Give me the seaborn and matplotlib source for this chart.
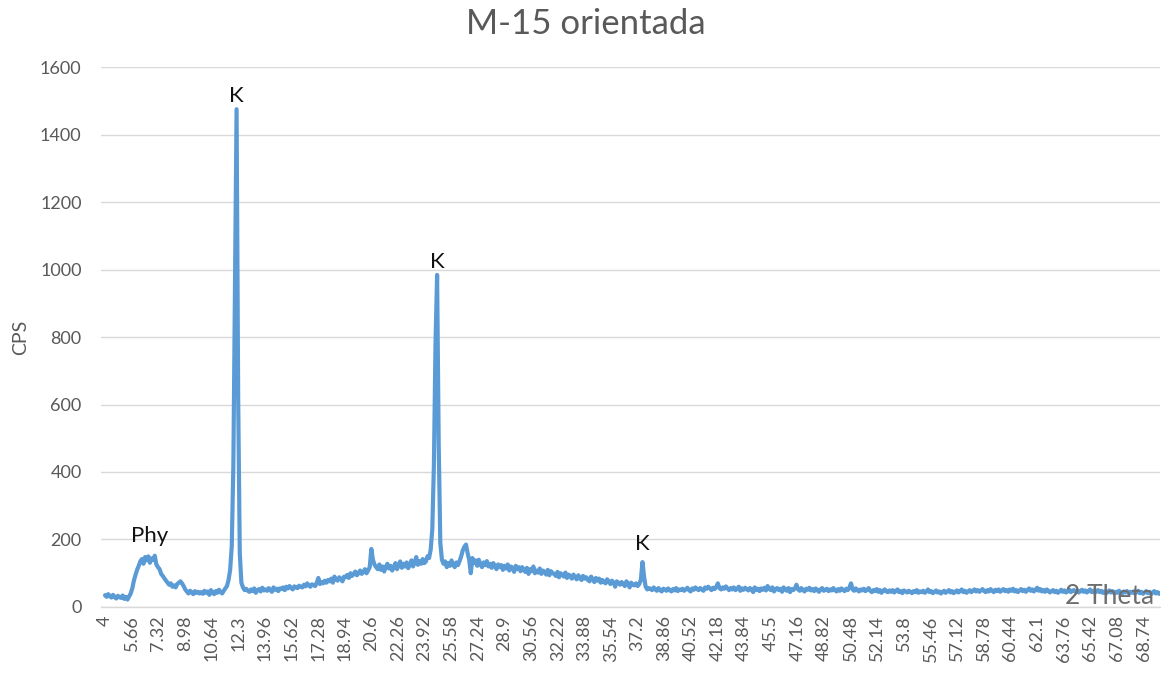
import numpy as np
import pandas as pd
import matplotlib
matplotlib.use("Agg")
import matplotlib.pyplot as plt
import seaborn as sns

# Diffractogram sampled every 0.1 degree 2-theta from 4.0 to 70.0
theta_start, theta_step = 4.0, 0.1

cps = [
    35, 30, 38, 32, 28, 36, 30, 25, 33, 29,            # 4.x
    27, 34, 24, 30, 22, 31, 40, 55, 78, 95,            # 5.x
    110, 122, 135, 142, 128, 148, 138, 150, 131, 144,  # 6.x
    140, 152, 126, 118, 112, 98, 92, 85, 78, 72,       # 7.x
    66, 70, 60, 64, 58, 68, 72, 76, 70, 62,            # 8.x
    52, 46, 40, 48, 43, 38, 47, 42, 45, 40,            # 9.x
    44, 39, 48, 42, 46, 36, 50, 43, 38, 47,            # 10.x
    42, 51, 45, 40, 48, 55, 62, 80, 110, 180,          # 11.x
    420, 960, 1475, 620, 160, 72, 58, 50, 54, 48,      # 12.x
    45, 52, 47, 55, 42, 50, 53, 46, 57, 49,            # 13.x
    52, 48, 56, 50, 45, 58, 51, 54, 47, 55,            # 14.x
    53, 58, 50, 60, 55, 62, 57, 52, 61, 58,            # 15.x
    56, 63, 60, 58, 66, 61, 70, 64, 60, 67,            # 16.x
    65, 62, 72, 86, 68, 74, 70, 78, 72, 80,            # 17.x
    76, 84, 72, 90, 82, 78, 88, 84, 76, 90,            # 18.x
    88, 95, 86, 100, 92, 98, 105, 94, 100, 108,        # 19.x
    98, 104, 112, 100, 108, 118, 172, 140, 125, 118,   # 20.x
    112, 126, 110, 120, 105, 118, 128, 114, 122, 108,  # 21.x
    118, 130, 112, 124, 135, 116, 128, 120, 132, 115,  # 22.x
    126, 138, 120, 132, 148, 125, 136, 128, 142, 130,  # 23.x
    135, 150, 145, 170, 230, 420, 780, 984, 480, 190,  # 24.x
    140, 128, 135, 118, 130, 122, 138, 125, 118, 132,  # 25.x
    124, 136, 150, 168, 178, 185, 160, 140, 100, 145,  # 26.x
    130, 138, 122, 140, 126, 118, 132, 124, 136, 120,  # 27.x
    128, 116, 130, 122, 112, 126, 118, 124, 110, 122,  # 28.x
    114, 126, 108, 120, 116, 104, 122, 112, 118, 106,  # 29.x
    118, 110, 104, 116, 98, 112, 106, 120, 100, 108,   # 30.x
    102, 114, 98, 108, 104, 96, 110, 94, 106, 100,     # 31.x
    98, 92, 104, 88, 100, 96, 90, 102, 86, 96,         # 32.x
    92, 84, 96, 88, 82, 94, 86, 80, 92, 84,            # 33.x
    88, 80, 76, 90, 82, 74, 86, 78, 84, 72,            # 34.x
    80, 74, 70, 82, 76, 68, 78, 72, 60, 76,            # 35.x
    72, 66, 74, 68, 62, 76, 70, 58, 72, 66,            # 36.x
    64, 70, 62, 68, 80, 133, 90, 60, 52, 56,           # 37.x
    54, 50, 58, 52, 48, 56, 50, 46, 54, 52,            # 38.x
    48, 55, 50, 46, 53, 49, 56, 47, 52, 50,            # 39.x
    54, 48, 52, 57, 50, 46, 55, 51, 58, 53,            # 40.x
    50, 56, 52, 48, 58, 54, 60, 55, 50, 57,            # 41.x
    53, 60, 70, 56, 52, 58, 54, 61, 55, 50,            # 42.x
    56, 52, 58, 50, 54, 60, 48, 55, 51, 57,            # 43.x
    53, 49, 56, 52, 44, 58, 50, 54, 47, 55,            # 44.x
    51, 57, 49, 62, 55, 50, 58, 46, 53, 56,            # 45.x
    50, 54, 45, 58, 52, 48, 56, 44, 53, 50,            # 46.x
    55, 66, 52, 48, 56, 50, 46, 54, 51, 57,            # 47.x
    49, 53, 47, 55, 50, 45, 52, 56, 48, 51,            # 48.x
    54, 47, 52, 49, 56, 50, 46, 53, 48, 55,            # 49.x
    51, 47, 54, 50, 58, 70, 52, 48, 55, 50,            # 50.x
    46, 52, 49, 54, 47, 51, 56, 48, 44, 50,            # 51.x
    47, 53, 45, 50, 42, 48, 52, 46, 44, 49,            # 52.x
    45, 50, 43, 48, 52, 44, 47, 41, 49, 46,            # 53.x
    43, 48, 45, 41, 47, 44, 50, 42, 46, 44,            # 54.x
    48, 42, 46, 52, 44, 47, 41, 45, 49, 43,            # 55.x
    46, 40, 44, 48, 42, 46, 50, 43, 47, 41,            # 56.x
    45, 49, 43, 47, 52, 44, 48, 42, 46, 50,            # 57.x
    44, 48, 52, 46, 50, 45, 49, 53, 47, 44,            # 58.x
    50, 46, 53, 48, 44, 51, 47, 52, 45, 49,            # 59.x
    53, 47, 50, 45, 52, 48, 54, 46, 50, 44,            # 60.x
    49, 53, 47, 51, 45, 50, 55, 48, 52, 46,            # 61.x
    51, 57, 48, 53, 46, 50, 45, 52, 48, 43,            # 62.x
    47, 50, 44, 48, 42, 46, 51, 45, 49, 43,            # 63.x
    46, 52, 44, 48, 50, 45, 49, 43, 47, 51,            # 64.x
    45, 49, 43, 47, 52, 44, 48, 42, 46, 50,            # 65.x
    44, 48, 42, 46, 40, 45, 49, 43, 47, 41,            # 66.x
    45, 42, 48, 44, 40, 46, 43, 47, 41, 45,            # 67.x
    42, 46, 40, 44, 48, 41, 45, 39, 43, 47,            # 68.x
    41, 45, 38, 43, 47, 40, 44, 39, 42, 46,            # 69.x
    41,                                                # 70.0
]

tick_labels = ["4", "5.66", "7.32", "8.98", "10.64", "12.3", "13.96", "15.62",
               "17.28", "18.94", "20.6", "22.26", "23.92", "25.58", "27.24",
               "28.9", "30.56", "32.22", "33.88", "35.54", "37.2", "38.86",
               "40.52", "42.18", "43.84", "45.5", "47.16", "48.82", "50.48",
               "52.14", "53.8", "55.46", "57.12", "58.78", "60.44", "62.1",
               "63.76", "65.42", "67.08", "68.74"]

# Phase labels: (name, 2-theta, intensity at label anchor)
phase_names = ["K", "K", "K", "Phy"]
phase_theta = [12.2, 24.7, 37.5, 6.8]
phase_cps = [1475, 984, 150, 172]

two_theta = np.round(theta_start + theta_step * np.arange(len(cps)), 1)
df = pd.DataFrame({"2 Theta": two_theta, "CPS": cps})

sns.set_style("white")
plt.rcParams["font.family"] = ["Lato", "DejaVu Sans"]

fig = plt.figure(figsize=(11.61, 6.84), dpi=100)
ax = fig.add_axes([0.087, 0.1126, 0.912, 0.7894])

sns.lineplot(data=df, x="2 Theta", y="CPS", ax=ax, color="#5B9BD5",
             linewidth=3.0, estimator=None)

ax.set_xlim(3.75, 69.75)
ax.set_ylim(0, 1600)
ax.set_yticks(range(0, 1601, 200))
ax.set_xticks([float(t) for t in tick_labels])
ax.set_xticklabels(tick_labels, rotation=90)

ax.grid(axis="y", color="#D9D9D9", linewidth=1)
ax.grid(axis="x", visible=False)
ax.set_axisbelow(True)
for side in ["left", "right", "top"]:
    ax.spines[side].set_visible(False)
ax.spines["bottom"].set_color("#D9D9D9")
ax.spines["bottom"].set_linewidth(1)

ax.tick_params(axis="both", length=0, labelsize=13, labelcolor="#595959")
ax.tick_params(axis="y", pad=14)
ax.tick_params(axis="x", pad=6)

ax.set_xlabel("")
ax.set_ylabel("CPS", fontsize=14, color="#595959", labelpad=8)
ax.text(0.995, 0.02, "2 Theta", transform=ax.transAxes, ha="right",
        va="center", fontsize=19, color="#6E6E6E")

for name, tx, ty in zip(phase_names, phase_theta, phase_cps):
    ax.annotate(name, xy=(tx, ty), xytext=(0, 2), textcoords="offset points",
                ha="center", va="bottom", fontsize=16, color="#111111")

fig.suptitle("M-15 orientada", x=0.505, y=0.988, va="top", fontsize=25,
             color="#595959")

fig.savefig("out.png", dpi=100)
